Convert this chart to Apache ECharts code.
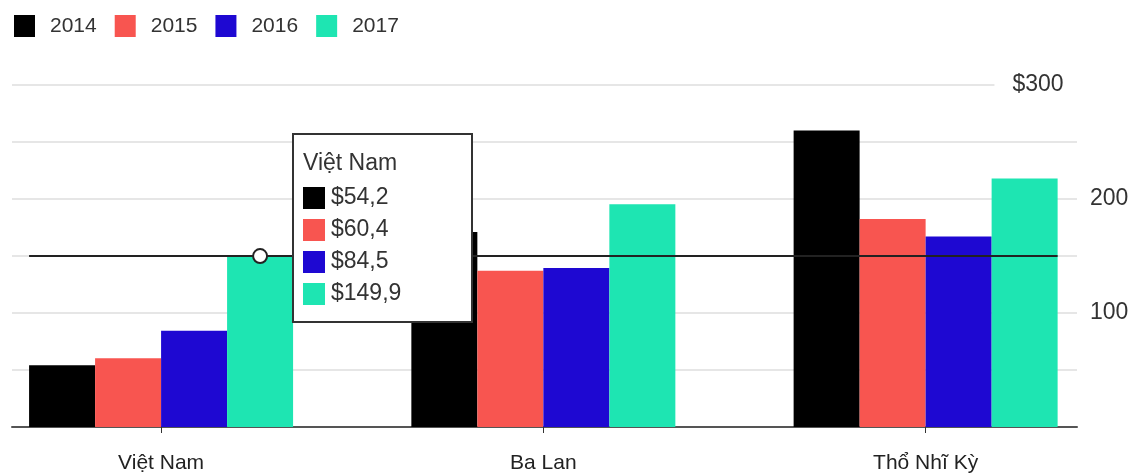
<!DOCTYPE html>
<html>
<head>
<meta charset="utf-8">
<script src="https://cdn.jsdelivr.net/npm/echarts@6/dist/echarts.min.js"></script>
<style>
  html, body { margin: 0; padding: 0; background: #fff; }
  #chart { width: 1138px; height: 475px; }
</style>
</head>
<body>
<div id="chart"></div>
<script>
// data
const countries = ['Việt Nam', 'Ba Lan', 'Thổ Nhĩ Kỳ'];
const years = ['2014', '2015', '2016', '2017'];
const v2014 = [54.2, 171, 260];
const v2015 = [60.4, 137, 182.5];
const v2016 = [84.5, 139.5, 167];
const v2017 = [149.9, 195.5, 218];
const yTicks = [100, 200];
const colors = ['#000000', '#f85550', '#1e08d2', '#1ee5b2'];

const chart = echarts.init(document.getElementById('chart'));

const barWidth = 66;
const pxPerUnit = 382.25;
const halfGroup = (barWidth * 2) / pxPerUnit;

const fmt = v => '$' + v.toFixed(1).replace('.', ',');

// static tooltip box for Việt Nam
const tipValues = [v2014[0], v2015[0], v2016[0], v2017[0]];
const tipX = 293, tipY = 134;
const tipChildren = [
  { type: 'rect', z: 100, shape: { x: tipX, y: tipY, width: 179, height: 188 },
    style: { fill: '#fff', stroke: '#333', lineWidth: 2 } },
  { type: 'text', z: 101, x: tipX + 10, y: tipY + 30,
    style: { text: countries[0], fill: '#333', font: '23px "Liberation Sans"', verticalAlign: 'middle' } }
];
tipValues.forEach((v, i) => {
  const cy = tipY + 64 + i * 32;
  tipChildren.push({ type: 'rect', z: 101, shape: { x: tipX + 10, y: cy - 11, width: 22, height: 22 },
    style: { fill: colors[i] } });
  tipChildren.push({ type: 'text', z: 101, x: tipX + 38, y: cy,
    style: { text: fmt(v), fill: '#333', font: '23px "Liberation Sans"', verticalAlign: 'middle' } });
});

const seriesData = [v2014, v2015, v2016, v2017];
const series = seriesData.map((vals, i) => ({
  name: years[i],
  type: 'bar',
  barWidth: barWidth,
  barGap: '0%',
  itemStyle: { color: colors[i] },
  data: vals.map((v, j) => [j, v])
}));

// white marker on the highlighted bar
series[3].markPoint = {
  symbol: 'circle',
  symbolSize: 14,
  itemStyle: { color: '#fff', borderColor: '#222', borderWidth: 2 },
  label: { show: false },
  data: [{ coord: [0, v2017[0]] }]
};

// helper series only carrying reference lines (no bar offset)
series.push({
  name: 'lines',
  type: 'line',
  data: [],
  silent: true,
  markLine: {
    silent: true,
    symbol: 'none',
    animation: false,
    data: [
      [
        { coord: [-0.39, 300], lineStyle: { color: '#e6e6e6', width: 2, type: 'solid' },
          label: { show: true, position: 'end', formatter: '$300', color: '#333', fontSize: 23, distance: 18 } },
        { coord: [2.18, 300] }
      ],
      [
        { coord: [-halfGroup, v2017[0]], lineStyle: { color: '#222', width: 2, type: 'solid' },
          label: { show: false } },
        { coord: [2 + halfGroup, v2017[0]] }
      ]
    ]
  }
});

const option = {
  animation: false,
  legend: {
    left: 9,
    top: 10,
    icon: 'rect',
    itemWidth: 21,
    itemHeight: 22,
    itemGap: 18,
    textStyle: { fontSize: 21, color: '#333', fontFamily: 'Liberation Sans', padding: [0, 0, 0, 10] },
    data: years
  },
  grid: { left: 12, right: 61, top: 85, bottom: 48 },
  xAxis: {
    type: 'value',
    min: -0.39,
    max: 2.396,
    splitLine: { show: false },
    axisLine: { show: true, lineStyle: { color: '#555', width: 2 } },
    axisTick: { show: true, customValues: [0, 1, 2], length: 6, lineStyle: { color: '#333' } },
    axisLabel: {
      customValues: [0, 1, 2],
      formatter: v => countries[Math.round(v)],
      fontSize: 21,
      color: '#222',
      fontFamily: 'Liberation Sans',
      margin: 26
    }
  },
  yAxis: {
    type: 'value',
    position: 'right',
    min: 0,
    max: 300,
    interval: 50,
    axisLine: { show: false },
    axisTick: { show: false },
    splitLine: { show: true, showMaxLine: false, lineStyle: { color: '#e6e6e6', width: 2 } },
    axisLabel: {
      formatter: v => (yTicks.includes(v) ? String(v) : ''),
      fontSize: 23,
      color: '#333',
      fontFamily: 'Liberation Sans',
      margin: 13
    }
  },
  graphic: [{ type: 'group', children: tipChildren }],
  series: series
};

chart.setOption(option);
</script>
</body>
</html>
